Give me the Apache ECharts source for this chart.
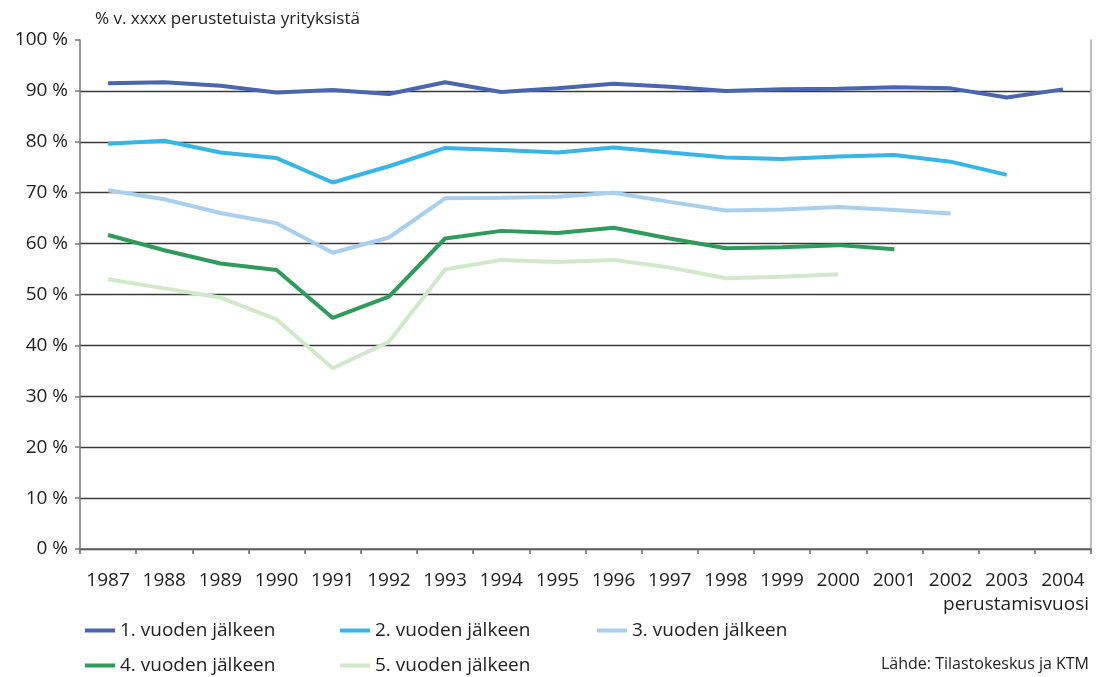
<!DOCTYPE html>
<html>
<head>
<meta charset="utf-8">
<script src="https://cdn.jsdelivr.net/npm/echarts@6/dist/echarts.min.js"></script>
<style>
  html, body { margin: 0; padding: 0; background: #fff; }
  #chart { width: 1100px; height: 677px; }
</style>
</head>
<body>
<div id="chart"></div>
<script>
// Data
const years = ['1987', '1988', '1989', '1990', '1991', '1992', '1993', '1994', '1995',
  '1996', '1997', '1998', '1999', '2000', '2001', '2002', '2003', '2004'];
const seriesNames = ['1. vuoden jälkeen', '2. vuoden jälkeen', '3. vuoden jälkeen',
  '4. vuoden jälkeen', '5. vuoden jälkeen'];
const after1 = [91.5, 91.7, 91.0, 89.7, 90.2, 89.4, 91.7, 89.8, 90.5, 91.4, 90.8, 90.0, 90.3, 90.4, 90.7, 90.5, 88.7, 90.3];
const after2 = [79.6, 80.2, 77.9, 76.8, 72.0, 75.2, 78.8, 78.4, 77.9, 78.9, 77.9, 76.9, 76.6, 77.1, 77.4, 76.1, 73.5];
const after3 = [70.5, 68.7, 66.0, 64.0, 58.2, 61.2, 68.9, 69.0, 69.2, 70.0, 68.2, 66.5, 66.7, 67.2, 66.6, 65.9];
const after4 = [61.7, 58.7, 56.1, 54.8, 45.4, 49.6, 61.0, 62.5, 62.1, 63.1, 61.0, 59.1, 59.3, 59.7, 58.9];
const after5 = [53.0, 51.2, 49.4, 45.1, 35.5, 40.7, 54.9, 56.8, 56.4, 56.8, 55.3, 53.2, 53.5, 54.0];
const colors = ['#4a66b0', '#36b5e6', '#a8cfee', '#2e9a5c', '#d2e8cb'];

const font = '"Open Sans", Lato, sans-serif';
const textColor = '#222';

const chart = echarts.init(document.getElementById('chart'));
window.addEventListener('resize', function() {
  chart.resize();
});

// One legend per item so the items sit where they do in the picture
const legendPlaces = [[80, 616], [335, 616], [592, 616], [80, 651], [335, 651]];
const legends = seriesNames.map((name, i) => ({
  data: [name],
  left: legendPlaces[i][0],
  top: legendPlaces[i][1],
  icon: 'rect',
  itemWidth: 30,
  itemHeight: 4,
  selectedMode: false,
  textStyle: { fontFamily: font, fontSize: 19, color: textColor }
}));

const allData = [after1, after2, after3, after4, after5];

let option = {
  backgroundColor: '#fff',
  animation: false,
  grid: { left: 80, right: 9, top: 40, bottom: 128, containLabel: false },
  legend: legends,
  graphic: [
    {
      type: 'text', left: 95, top: 11,
      style: { text: '% v. xxxx perustetuista yrityksistä', font: '17px ' + font, fill: textColor }
    },
    {
      type: 'text', right: 11, top: 595,
      style: { text: 'perustamisvuosi', font: '19px ' + font, fill: textColor }
    },
    {
      type: 'text', right: 11, top: 656,
      style: { text: 'Lähde: Tilastokeskus ja KTM', font: '16px ' + font, fill: textColor }
    }
  ],
  xAxis: {
    type: 'category',
    data: years,
    boundaryGap: true,
    axisLine: { show: true, lineStyle: { color: '#666', width: 1.5 } },
    axisTick: { show: true, length: 5, lineStyle: { color: '#666', width: 1.5 } },
    axisLabel: { margin: 22, fontFamily: font, fontSize: 19, color: textColor, interval: 0 }
  },
  yAxis: [
    {
      type: 'value',
      min: 0,
      max: 100,
      interval: 10,
      axisLine: { show: true, lineStyle: { color: '#777', width: 1.5 } },
      axisTick: { show: true, length: 5, lineStyle: { color: '#777', width: 1.5 } },
      axisLabel: { margin: 12, fontFamily: font, fontSize: 19, color: textColor, formatter: '{value} %' },
      splitLine: { show: true, showMaxLine: false, lineStyle: { color: '#3a3a3a', width: 1.3 } }
    },
    {
      type: 'value',
      position: 'right',
      min: 0,
      max: 100,
      interval: 10,
      axisLine: { show: true, lineStyle: { color: '#aaa', width: 1.5 } },
      axisTick: { show: false },
      axisLabel: { show: false },
      splitLine: { show: false }
    }
  ],
  series: seriesNames.map((name, i) => ({
    name: name,
    type: 'line',
    data: allData[i],
    symbol: 'none',
    lineStyle: { color: colors[i], width: 4 },
    itemStyle: { color: colors[i] },
    z: 10 - i
  }))
};
chart.setOption(option);
</script>
</body>
</html>
